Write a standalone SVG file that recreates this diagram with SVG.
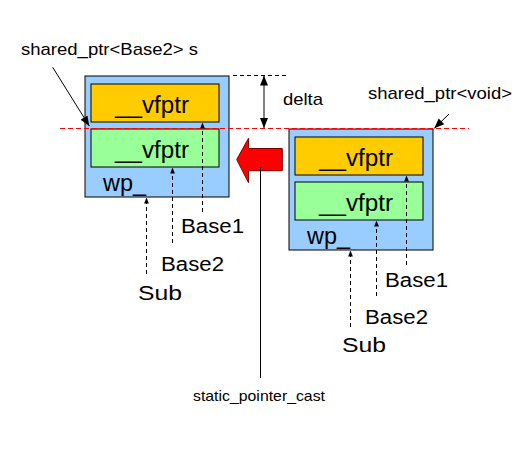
<svg xmlns="http://www.w3.org/2000/svg" width="529" height="453" viewBox="0 0 529 453">
<style>
text{font-family:"Liberation Sans",Arial,sans-serif;fill:#000}
.outer{fill:#99CCFF;stroke:#000;stroke-width:1}
.b1{fill:#FFCC00;stroke:#000;stroke-width:1}
.b2{fill:#99FF99;stroke:#000;stroke-width:1}
.big{font-size:23px}
.lbl{font-size:20px}
.small{font-size:17px}
.dash{stroke:#000;stroke-width:1;stroke-dasharray:4 3;fill:none}
.solid{stroke:#000;stroke-width:1;fill:none}
</style>
<defs>
<marker id="sm" viewBox="0 0 10 10" refX="10" refY="5" markerWidth="6" markerHeight="6" orient="auto" markerUnits="userSpaceOnUse"><path d="M0,1 L10,5 L0,9 Z" fill="#000"/></marker>
<marker id="ah" viewBox="0 0 10 10" refX="10" refY="5" markerWidth="10" markerHeight="10" orient="auto" markerUnits="userSpaceOnUse"><path d="M0,1 L10,5 L0,9 Z" fill="#000"/></marker>
</defs>

<g id="left-object">
<rect class="outer" x="85" y="76" width="144" height="121"/>
<rect class="b1" x="91" y="84" width="128" height="38"/>
<rect class="b2" x="91" y="129" width="128" height="38"/>
<text class="big" x="152" y="113" text-anchor="middle" textLength="74" lengthAdjust="spacingAndGlyphs">__vfptr</text>
<text class="big" x="152" y="158" text-anchor="middle" textLength="74" lengthAdjust="spacingAndGlyphs">__vfptr</text>
<text class="big" x="103" y="191" textLength="43" lengthAdjust="spacingAndGlyphs">wp_</text>
</g>

<g id="right-object">
<rect class="outer" x="289" y="129" width="144" height="121"/>
<rect class="b1" x="295" y="137" width="128" height="38"/>
<rect class="b2" x="295" y="182" width="128" height="38"/>
<text class="big" x="356" y="166" text-anchor="middle" textLength="74" lengthAdjust="spacingAndGlyphs">__vfptr</text>
<text class="big" x="356" y="211" text-anchor="middle" textLength="74" lengthAdjust="spacingAndGlyphs">__vfptr</text>
<text class="big" x="307" y="244" textLength="43" lengthAdjust="spacingAndGlyphs">wp_</text>
</g>

<g id="cast-arrow">
<path d="M236.7,159.5 L248.5,138.3 L248.5,148.5 L282.3,148.5 L282.3,170.7 L248.5,170.7 L248.5,182.7 Z" fill="#FF0000" stroke="#800000" stroke-width="1"/>
</g>

<g id="labels">
<text class="small" x="21" y="55" textLength="177" lengthAdjust="spacingAndGlyphs">shared_ptr&lt;Base2&gt; s</text>
<text class="small" x="368" y="99" textLength="144" lengthAdjust="spacingAndGlyphs">shared_ptr&lt;void&gt;</text>
<text class="small" x="283" y="105" textLength="40" lengthAdjust="spacingAndGlyphs">delta</text>
<text class="lbl" x="181" y="233" textLength="63" lengthAdjust="spacingAndGlyphs">Base1</text>
<text class="lbl" x="161" y="271" textLength="63" lengthAdjust="spacingAndGlyphs">Base2</text>
<text class="lbl" x="138" y="300" textLength="44" lengthAdjust="spacingAndGlyphs">Sub</text>
<text class="lbl" x="385" y="287" textLength="63" lengthAdjust="spacingAndGlyphs">Base1</text>
<text class="lbl" x="365" y="324" textLength="63" lengthAdjust="spacingAndGlyphs">Base2</text>
<text class="lbl" x="342" y="352" textLength="44" lengthAdjust="spacingAndGlyphs">Sub</text>
<text x="193" y="401" font-size="15" textLength="132" lengthAdjust="spacingAndGlyphs">static_pointer_cast</text>
</g>

<g id="connectors">
<line x1="60" y1="128.5" x2="469" y2="128.5" stroke="#FF0000" stroke-width="1" stroke-dasharray="5 3"/>
<line class="dash" x1="233" y1="75.5" x2="287" y2="75.5"/>
<line class="solid" x1="264" y1="100" x2="264" y2="75.5" marker-end="url(#ah)"/>
<line class="solid" x1="264" y1="100" x2="264" y2="128" marker-end="url(#ah)"/>
<line class="solid" x1="52.7" y1="67.3" x2="89.3" y2="126" marker-end="url(#ah)"/>
<line class="solid" x1="449" y1="114" x2="434.3" y2="128.3" marker-end="url(#ah)"/>
<line class="solid" x1="260.5" y1="378" x2="260.5" y2="167"/>
<line class="dash" x1="202.5" y1="212" x2="202.5" y2="122.5" marker-end="url(#sm)"/>
<line class="dash" x1="172.5" y1="243" x2="172.5" y2="167.5" marker-end="url(#sm)"/>
<line class="dash" x1="146.5" y1="274" x2="146.5" y2="197.5" marker-end="url(#sm)"/>
<line class="dash" x1="406.5" y1="265" x2="406.5" y2="175.5" marker-end="url(#sm)"/>
<line class="dash" x1="376.5" y1="296" x2="376.5" y2="220.5" marker-end="url(#sm)"/>
<line class="dash" x1="350.5" y1="327" x2="350.5" y2="250.5" marker-end="url(#sm)"/>
</g>
</svg>
